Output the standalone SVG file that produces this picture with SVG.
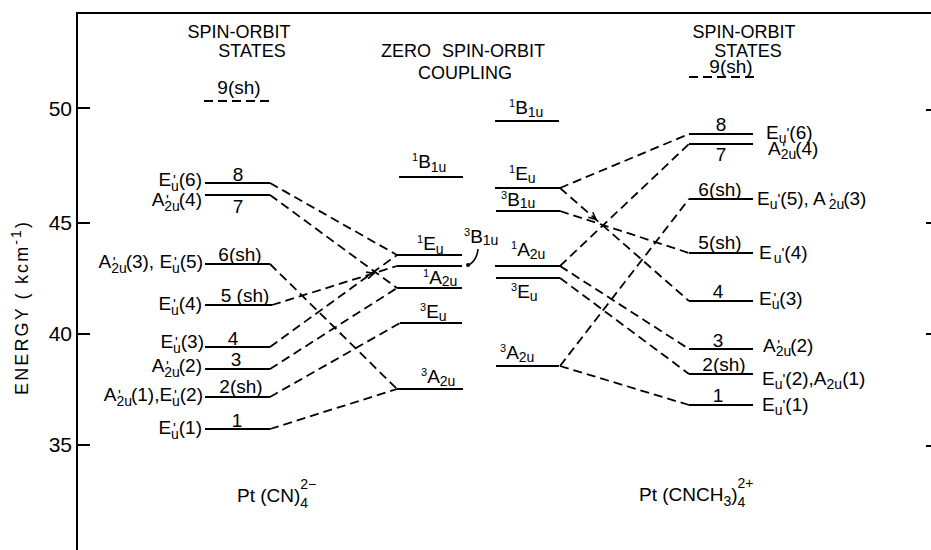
<svg xmlns="http://www.w3.org/2000/svg" width="931" height="550" viewBox="0 0 931 550">
<style>
.ax{stroke:#000;stroke-width:2;fill:none}
.lv{stroke:#000;stroke-width:2;fill:none}
.dl{stroke:#000;stroke-width:1.8;stroke-dasharray:9 5;fill:none}
.ah{stroke:#000;stroke-width:1.6;fill:none}
text{font-family:"Liberation Sans",Arial,sans-serif;fill:#000}
.t{font-size:19px}
.h{font-size:18px}
.k{font-size:21px}
.sb{font-size:14px}
.sp{font-size:11px}
.pr{font-size:15px}
</style>
<rect width="931" height="550" fill="#fff"/>
<g id="axes">
<line class="ax" x1="77" y1="13" x2="77" y2="550"/>
<line class="ax" x1="76" y1="13" x2="931" y2="13"/>
<line class="ax" x1="77" y1="108" x2="90" y2="108"/>
<line class="ax" x1="77" y1="223" x2="90" y2="223"/>
<line class="ax" x1="77" y1="334" x2="90" y2="334"/>
<line class="ax" x1="77" y1="445" x2="90" y2="445"/>
<line class="ax" x1="926" y1="110" x2="931" y2="110"/>
<line class="ax" x1="926" y1="223" x2="931" y2="223"/>
<line class="ax" x1="926" y1="334" x2="931" y2="334"/>
<line class="ax" x1="926" y1="446" x2="931" y2="446"/>
<text class="k" x="72" y="116" text-anchor="end">50</text>
<text class="k" x="72" y="230" text-anchor="end">45</text>
<text class="k" x="72" y="341" text-anchor="end">40</text>
<text class="k" x="72" y="452" text-anchor="end">35</text>
<text class="h" transform="translate(28,395) rotate(-90)" textLength="173" lengthAdjust="spacing">ENERGY ( kcm<tspan class="sb" dy="-7">-1</tspan><tspan dy="7">)</tspan></text>
</g>
<g id="headings">
<text class="h" x="239" y="38" text-anchor="middle">SPIN-ORBIT</text>
<text class="h" x="252" y="57" text-anchor="middle">STATES</text>
<text class="h" x="463" y="57" text-anchor="middle" word-spacing="6">ZERO SPIN-ORBIT</text>
<text class="h" x="465" y="79" text-anchor="middle">COUPLING</text>
<text class="h" x="744" y="38" text-anchor="middle">SPIN-ORBIT</text>
<text class="h" x="748" y="57" text-anchor="middle">STATES</text>
<text class="t" x="237" y="502">Pt (CN)<tspan class="sb" dy="-13">2−</tspan><tspan class="sb" dx="-16" dy="19">4</tspan></text>
<text class="t" x="639" y="501">Pt (CNCH<tspan class="sb" dy="5">3</tspan><tspan dy="-5">)</tspan><tspan class="sb" dy="-13">2+</tspan><tspan class="sb" dx="-16" dy="19">4</tspan></text>
</g>
<g id="left-states">
<line class="dl" x1="204" y1="101" x2="270" y2="101"/>
<text class="t" x="239" y="94" text-anchor="middle">9(sh)</text>
<line class="lv" x1="205" y1="183" x2="270" y2="183"/>
<text class="t" x="238" y="181" text-anchor="middle">8</text>
<text class="t" x="202" y="186" text-anchor="end">E<tspan class="sb" dy="5">u</tspan><tspan class="pr" dx="-6" dy="-6">'</tspan><tspan dx="3" dy="1">(6)</tspan></text>
<line class="lv" x1="205" y1="195" x2="270" y2="195"/>
<text class="t" x="238" y="213" text-anchor="middle">7</text>
<text class="t" x="202" y="206" text-anchor="end">A<tspan class="sb" dy="5">2u</tspan><tspan class="pr" dx="-14" dy="-6">'</tspan><tspan dx="10" dy="1">(4)</tspan></text>
<line class="lv" x1="205" y1="264" x2="270" y2="264"/>
<text class="t" x="240" y="261" text-anchor="middle">6(sh)</text>
<text class="t" x="203" y="268" text-anchor="end">A<tspan class="sb" dy="5">2u</tspan><tspan class="pr" dx="-14" dy="-6">'</tspan><tspan dx="10" dy="1">(3), E</tspan><tspan class="sb" dy="5">u</tspan><tspan class="pr" dx="-6" dy="-6">'</tspan><tspan dx="3" dy="1">(5)</tspan></text>
<line class="lv" x1="205" y1="305" x2="272" y2="305"/>
<text class="t" x="245" y="302" text-anchor="middle">5 (sh)</text>
<text class="t" x="202" y="310" text-anchor="end">E<tspan class="sb" dy="5">u</tspan><tspan class="pr" dx="-6" dy="-6">'</tspan><tspan dx="3" dy="1">(4)</tspan></text>
<line class="lv" x1="205" y1="347" x2="270" y2="347"/>
<text class="t" x="233" y="345" text-anchor="middle">4</text>
<text class="t" x="204" y="348" text-anchor="end">E<tspan class="sb" dy="5">u</tspan><tspan class="pr" dx="-6" dy="-6">'</tspan><tspan dx="3" dy="1">(3)</tspan></text>
<line class="lv" x1="205" y1="369" x2="270" y2="369"/>
<text class="t" x="236" y="366" text-anchor="middle">3</text>
<text class="t" x="202" y="372" text-anchor="end">A<tspan class="sb" dy="5">2u</tspan><tspan class="pr" dx="-14" dy="-6">'</tspan><tspan dx="10" dy="1">(2)</tspan></text>
<line class="lv" x1="205" y1="397" x2="270" y2="397"/>
<text class="t" x="241" y="393" text-anchor="middle">2(sh)</text>
<text class="t" x="203" y="401" text-anchor="end">A<tspan class="sb" dy="5">2u</tspan><tspan class="pr" dx="-14" dy="-6">'</tspan><tspan dx="10" dy="1">(1),E</tspan><tspan class="sb" dy="5">u</tspan><tspan class="pr" dx="-6" dy="-6">'</tspan><tspan dx="3" dy="1">(2)</tspan></text>
<line class="lv" x1="205" y1="429" x2="270" y2="429"/>
<text class="t" x="237" y="427" text-anchor="middle">1</text>
<text class="t" x="202" y="434" text-anchor="end">E<tspan class="sb" dy="5">u</tspan><tspan class="pr" dx="-6" dy="-6">'</tspan><tspan dx="3" dy="1">(1)</tspan></text>
</g>
<g id="zero-left">
<line class="lv" x1="399" y1="177" x2="463" y2="177"/>
<text class="t" x="412" y="168"><tspan class="sp" dy="-7">1</tspan><tspan dy="7">B</tspan><tspan class="sb" dy="4">1u</tspan></text>
<line class="lv" x1="397" y1="255" x2="462" y2="255"/>
<text class="t" x="417" y="250"><tspan class="sp" dy="-7">1</tspan><tspan dy="7">E</tspan><tspan class="sb" dy="4">u</tspan></text>
<line class="lv" x1="397" y1="266" x2="462" y2="266"/>
<text class="t" x="464" y="243"><tspan class="sp" dy="-7">3</tspan><tspan dy="7">B</tspan><tspan class="sb" dy="2">1u</tspan></text>
<path class="ah" d="M478 249 Q477 260 469 265"/>
<circle cx="468" cy="265" r="2" fill="#000"/>
<line class="lv" x1="397" y1="288" x2="462" y2="288"/>
<text class="t" x="423" y="284"><tspan class="sp" dy="-7">1</tspan><tspan dy="7">A</tspan><tspan class="sb" dy="2">2u</tspan></text>
<line class="lv" x1="400" y1="323" x2="462" y2="323"/>
<text class="t" x="420" y="318"><tspan class="sp" dy="-7">3</tspan><tspan dy="7">E</tspan><tspan class="sb" dy="3">u</tspan></text>
<line class="lv" x1="397" y1="389" x2="463" y2="389"/>
<text class="t" x="421" y="383"><tspan class="sp" dy="-7">3</tspan><tspan dy="7">A</tspan><tspan class="sb" dy="3">2u</tspan></text>
</g>
<g id="zero-right">
<line class="lv" x1="495" y1="121" x2="559" y2="121"/>
<text class="t" x="509" y="114"><tspan class="sp" dy="-7">1</tspan><tspan dy="7">B</tspan><tspan class="sb" dy="3">1u</tspan></text>
<line class="lv" x1="495" y1="188" x2="560" y2="188"/>
<text class="t" x="509" y="180"><tspan class="sp" dy="-7">1</tspan><tspan dy="7">E</tspan><tspan class="sb" dy="3">u</tspan></text>
<line class="lv" x1="496" y1="211" x2="560" y2="211"/>
<text class="t" x="501" y="206"><tspan class="sp" dy="-7">3</tspan><tspan dy="7">B</tspan><tspan class="sb" dy="2">1u</tspan></text>
<line class="lv" x1="495" y1="266" x2="560" y2="266"/>
<text class="t" x="511" y="256"><tspan class="sp" dy="-7">1</tspan><tspan dy="7">A</tspan><tspan class="sb" dy="3">2u</tspan></text>
<line class="lv" x1="496" y1="278" x2="560" y2="278"/>
<text class="t" x="511" y="298"><tspan class="sp" dy="-7">3</tspan><tspan dy="7">E</tspan><tspan class="sb" dy="3">u</tspan></text>
<line class="lv" x1="496" y1="366" x2="559" y2="366"/>
<text class="t" x="500" y="359"><tspan class="sp" dy="-7">3</tspan><tspan dy="7">A</tspan><tspan class="sb" dy="3">2u</tspan></text>
</g>
<g id="right-states">
<line class="dl" x1="689" y1="77" x2="754" y2="77"/>
<text class="t" x="731" y="73" text-anchor="middle">9(sh)</text>
<line class="lv" x1="689" y1="134" x2="753" y2="134"/>
<text class="t" x="721" y="131" text-anchor="middle">8</text>
<text class="t" x="766" y="139">E<tspan class="sb" dy="4">u</tspan><tspan class="pr" dy="-5">'</tspan><tspan dy="1">(6)</tspan></text>
<line class="lv" x1="689" y1="144" x2="753" y2="144"/>
<text class="t" x="721" y="161" text-anchor="middle">7</text>
<text class="t" x="768" y="155">A<tspan class="sb" dy="4">2u</tspan><tspan class="pr" dx="-14" dy="-6">'</tspan><tspan dx="10" dy="2">(4)</tspan></text>
<line class="lv" x1="689" y1="199" x2="753" y2="199"/>
<text class="t" x="720" y="196" text-anchor="middle">6(sh)</text>
<text class="t" x="757" y="205">E<tspan class="sb" dy="4">u</tspan><tspan class="pr" dy="-5">'</tspan><tspan dy="1">(5), A</tspan><tspan class="sb" dx="3" dy="4">2u</tspan><tspan class="pr" dx="-14" dy="-6">'</tspan><tspan dx="10" dy="2">(3)</tspan></text>
<line class="lv" x1="689" y1="253" x2="753" y2="253"/>
<text class="t" x="720" y="249" text-anchor="middle">5(sh)</text>
<text class="t" x="759" y="259">E<tspan class="sb" dx="2" dy="4">u</tspan><tspan class="pr" dy="-5">'</tspan><tspan dy="1">(4)</tspan></text>
<line class="lv" x1="689" y1="301" x2="753" y2="301"/>
<text class="t" x="718" y="298" text-anchor="middle">4</text>
<text class="t" x="759" y="305">E<tspan class="sb" dy="4">u</tspan><tspan class="pr" dx="-6" dy="-6">'</tspan><tspan dx="3" dy="2">(3)</tspan></text>
<line class="lv" x1="689" y1="349" x2="753" y2="349"/>
<text class="t" x="718" y="347" text-anchor="middle">3</text>
<text class="t" x="763" y="352">A<tspan class="sb" dy="4">2u</tspan><tspan class="pr" dx="-14" dy="-6">'</tspan><tspan dx="10" dy="2">(2)</tspan></text>
<line class="lv" x1="689" y1="374" x2="753" y2="374"/>
<text class="t" x="724" y="371" text-anchor="middle">2(sh)</text>
<text class="t" x="762" y="385">E<tspan class="sb" dy="4">u</tspan><tspan class="pr" dy="-5">'</tspan><tspan dy="1">(2),A</tspan><tspan class="sb" dy="4">2u</tspan><tspan dy="-4">(1)</tspan></text>
<line class="lv" x1="689" y1="405" x2="753" y2="405"/>
<text class="t" x="718" y="402" text-anchor="middle">1</text>
<text class="t" x="762" y="411">E<tspan class="sb" dy="4">u</tspan><tspan class="pr" dy="-5">'</tspan><tspan dy="1">(1)</tspan></text>
</g>
<g id="connectors">
<line class="dl" x1="270" y1="183" x2="397" y2="255"/>
<line class="dl" x1="270" y1="195" x2="397" y2="288"/>
<line class="dl" x1="270" y1="264" x2="397" y2="389"/>
<line class="dl" x1="272" y1="305" x2="397" y2="266"/>
<line class="dl" x1="270" y1="347" x2="397" y2="255"/>
<line class="dl" x1="270" y1="369" x2="397" y2="288"/>
<line class="dl" x1="270" y1="397" x2="400" y2="323"/>
<line class="dl" x1="270" y1="429" x2="397" y2="389"/>
<path class="ah" d="M366.1 272.1 L374 273.2 L368.1 278.6"/>
<line class="dl" x1="560" y1="188" x2="689" y2="134"/>
<line class="dl" x1="560" y1="188" x2="689" y2="301"/>
<line class="dl" x1="560" y1="211" x2="689" y2="253"/>
<line class="dl" x1="560" y1="266" x2="689" y2="144"/>
<line class="dl" x1="560" y1="266" x2="689" y2="349"/>
<line class="dl" x1="560" y1="278" x2="689" y2="374"/>
<line class="dl" x1="560" y1="366" x2="689" y2="199"/>
<line class="dl" x1="560" y1="366" x2="689" y2="405"/>
<path class="ah" d="M592.8 212.2 L596 219.5 L588.3 217.3"/>
</g>
</svg>
